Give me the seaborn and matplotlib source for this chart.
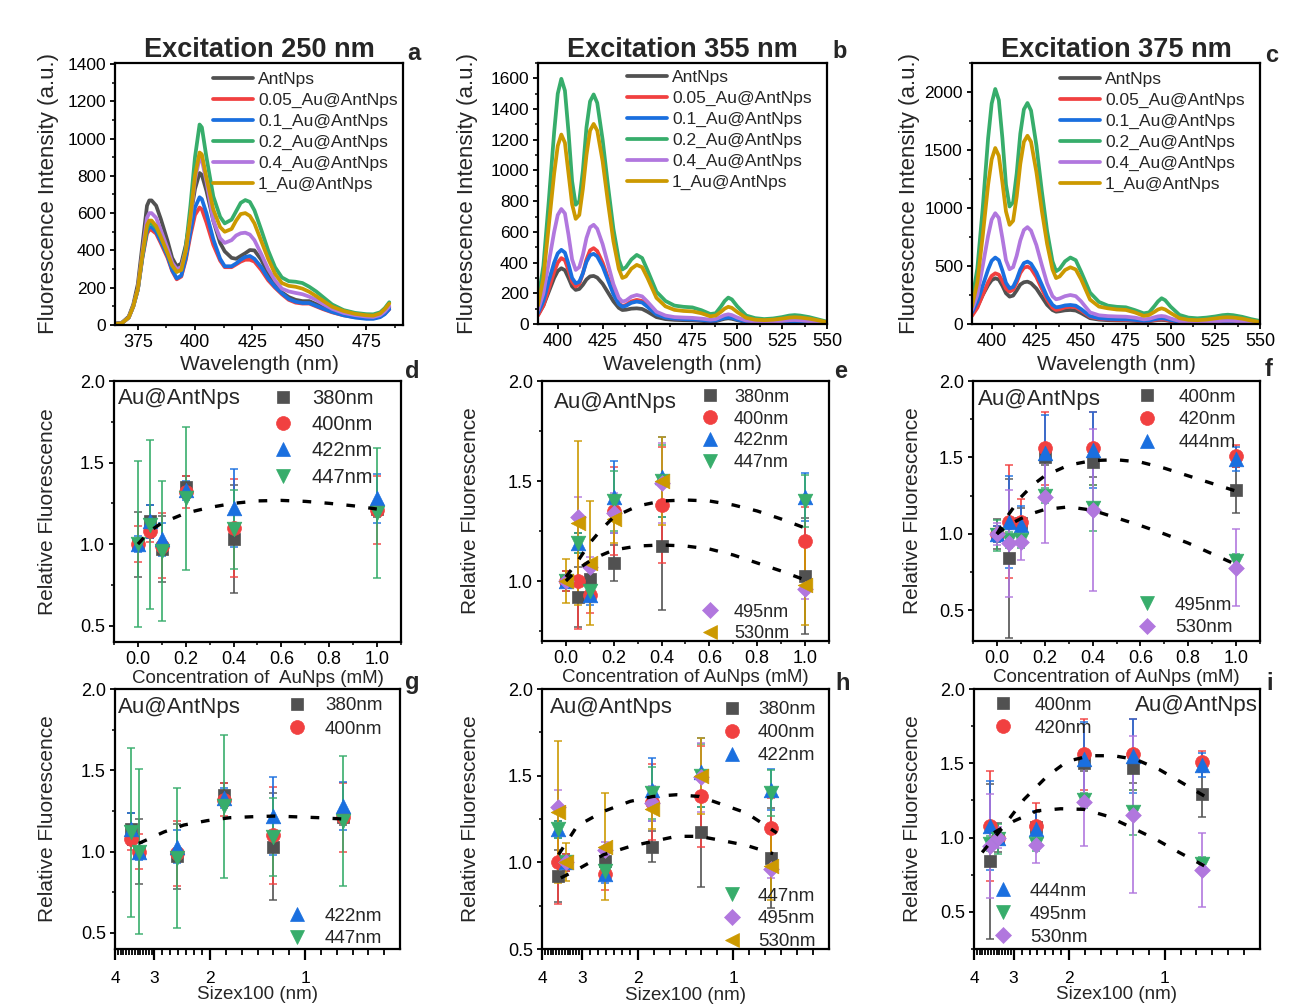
import matplotlib
matplotlib.use("Agg")
import matplotlib.pyplot as plt
from matplotlib.lines import Line2D
from matplotlib.ticker import MultipleLocator, FixedLocator, FixedFormatter, NullFormatter
import numpy as np
import seaborn as sns

# ---------------- emission spectra ----------------
samples = ["AntNps", "0.05_Au@AntNps", "0.1_Au@AntNps",
           "0.2_Au@AntNps", "0.4_Au@AntNps", "1_Au@AntNps"]

wl_250 = [365, 368, 371, 373, 375, 377, 379, 380, 381, 383, 385, 388, 390, 392, 394, 396,
          398, 400, 402, 403, 405, 408, 411, 413, 416, 418, 420, 422, 424, 426, 429, 432,
          435, 438, 441, 444, 447, 450, 453, 456, 460, 465, 470, 475, 478, 481, 483, 485]
ex250_ant = [8, 12, 45, 110, 220, 430, 640, 668, 668, 640, 570, 450, 360, 315, 330, 430,
             580, 730, 815, 805, 720, 560, 440, 395, 360, 355, 370, 385, 402, 400, 350, 275,
             215, 175, 150, 135, 128, 128, 112, 95, 75, 60, 50, 45, 45, 55, 68, 95]
ex250_005 = [5, 10, 40, 100, 190, 360, 490, 510, 510, 490, 440, 360, 290, 245, 260, 350,
             480, 590, 630, 620, 550, 430, 345, 310, 310, 325, 340, 350, 350, 340, 295, 240,
             200, 165, 135, 120, 115, 115, 100, 85, 68, 52, 42, 37, 37, 45, 60, 85]
ex250_01 = [5, 10, 40, 100, 190, 365, 505, 525, 525, 500, 450, 370, 295, 250, 265, 360,
            500, 630, 685, 675, 600, 460, 355, 315, 315, 330, 350, 365, 370, 355, 310, 250,
            205, 170, 140, 125, 118, 118, 103, 88, 70, 52, 40, 33, 33, 42, 58, 85]
ex250_02 = [5, 10, 40, 100, 190, 370, 520, 545, 545, 520, 470, 385, 320, 285, 300, 420,
            640, 900, 1075, 1060, 900, 690, 580, 545, 565, 610, 655, 670, 660, 615, 510, 400,
            310, 255, 235, 232, 225, 205, 180, 150, 110, 80, 65, 58, 57, 68, 90, 122]
ex250_04 = [5, 10, 40, 100, 195, 390, 575, 600, 600, 575, 510, 410, 335, 300, 310, 400,
            570, 780, 895, 885, 770, 560, 465, 440, 455, 480, 492, 495, 485, 455, 380, 300,
            240, 195, 180, 172, 165, 152, 135, 113, 87, 65, 53, 45, 43, 53, 72, 100]
ex250_1 = [5, 10, 40, 100, 195, 380, 535, 560, 560, 530, 475, 385, 320, 285, 295, 400,
           580, 800, 925, 915, 790, 620, 525, 500, 515, 560, 595, 600, 585, 545, 450, 355,
           275, 225, 210, 205, 195, 178, 155, 130, 98, 75, 60, 52, 50, 62, 85, 115]

wl_long = [389, 392, 395, 398, 400, 402, 404, 406, 408, 410, 412, 414, 416, 418, 420, 422,
           425, 428, 431, 434, 436, 438, 441, 444, 447, 450, 455, 460, 465, 470, 475, 480,
           485, 488, 491, 493, 495, 497, 500, 505, 510, 515, 520, 525, 529, 532, 535, 540,
           545, 550]
ex355_ant = [60, 120, 210, 300, 345, 363, 350, 300, 245, 222, 228, 255, 290, 310, 313, 302,
             262, 205, 148, 105, 91, 93, 100, 102, 98, 80, 45, 32, 27, 25, 24, 20,
             16, 18, 28, 34, 37, 34, 25, 13, 9, 8, 9, 11, 13, 14, 13, 10, 6, 4]
ex355_005 = [55, 120, 230, 340, 400, 429, 415, 350, 275, 244, 260, 330, 420, 480, 494, 475,
             400, 300, 205, 135, 117, 124, 147, 157, 150, 120, 65, 44, 36, 33, 31, 27,
             21, 24, 36, 44, 48, 44, 32, 17, 12, 10, 12, 15, 18, 19, 18, 14, 9, 5]
ex355_01 = [70, 150, 280, 400, 460, 483, 465, 390, 300, 265, 275, 330, 405, 448, 457, 440,
            375, 285, 195, 130, 113, 118, 138, 146, 140, 112, 62, 42, 35, 32, 30, 26,
            20, 23, 33, 40, 43, 40, 29, 16, 11, 10, 11, 14, 17, 18, 17, 13, 8, 5]
ex355_02 = [150, 380, 800, 1250, 1500, 1597, 1520, 1250, 930, 777, 800, 1000, 1280, 1450, 1495, 1440,
            1200, 900, 620, 420, 355, 370, 420, 450, 430, 350, 210, 150, 120, 112, 108, 90,
            65, 70, 115, 150, 172, 160, 115, 55, 38, 32, 36, 45, 55, 58, 55, 45, 30, 15]
ex355_04 = [90, 200, 400, 600, 710, 749, 720, 580, 420, 352, 370, 450, 560, 630, 646, 620,
            520, 390, 260, 170, 146, 152, 178, 189, 180, 145, 80, 55, 45, 42, 40, 35,
            28, 32, 48, 58, 63, 58, 42, 22, 16, 14, 16, 20, 25, 26, 24, 18, 12, 8]
ex355_1 = [120, 300, 640, 980, 1160, 1234, 1180, 980, 780, 685, 710, 880, 1100, 1260, 1303, 1260,
           1060, 790, 540, 360, 300, 310, 360, 385, 370, 300, 170, 115, 92, 85, 82, 70,
           50, 55, 80, 100, 112, 105, 78, 40, 28, 25, 28, 35, 42, 44, 42, 35, 24, 12]

ex375_ant = [80, 150, 250, 335, 378, 394, 383, 330, 265, 236, 245, 290, 340, 360, 365, 352,
             305, 235, 165, 120, 106, 110, 118, 121, 116, 94, 50, 38, 33, 31, 30, 27,
             21, 24, 30, 34, 35, 33, 25, 13, 10, 8, 10, 12, 14, 15, 14, 11, 7, 4]
ex375_005 = [70, 140, 250, 360, 415, 437, 425, 370, 305, 279, 295, 360, 440, 485, 495, 478,
             405, 305, 210, 140, 121, 127, 143, 150, 144, 116, 62, 45, 39, 37, 35, 31,
             24, 27, 34, 38, 40, 38, 28, 15, 11, 9, 11, 13, 16, 17, 16, 12, 8, 4]
ex375_01 = [100, 190, 330, 470, 545, 573, 550, 460, 355, 308, 320, 385, 470, 525, 538, 520,
            445, 340, 235, 165, 144, 148, 160, 164, 158, 128, 68, 50, 44, 42, 40, 35,
            27, 30, 40, 46, 49, 46, 34, 18, 13, 11, 13, 16, 19, 20, 19, 15, 9, 5]
ex375_02 = [200, 480, 1000, 1600, 1900, 2026, 1930, 1600, 1200, 1013, 1050, 1300, 1640, 1850, 1905, 1840,
            1540, 1150, 800, 540, 455, 475, 540, 573, 550, 450, 270, 190, 158, 148, 144, 120,
            92, 100, 155, 195, 222, 205, 150, 78, 55, 49, 55, 65, 76, 80, 76, 62, 42, 26]
ex375_04 = [120, 250, 500, 760, 900, 955, 915, 740, 550, 472, 490, 590, 720, 810, 835, 805,
            680, 510, 350, 240, 213, 220, 240, 250, 240, 195, 100, 75, 68, 65, 63, 55,
            40, 45, 58, 66, 69, 65, 48, 25, 18, 16, 18, 22, 27, 28, 27, 21, 13, 6]
ex375_1 = [150, 360, 760, 1200, 1420, 1517, 1450, 1220, 970, 855, 890, 1100, 1380, 1570, 1623, 1570,
           1310, 980, 690, 470, 396, 410, 465, 489, 470, 385, 210, 150, 135, 125, 121, 100,
           70, 78, 105, 125, 135, 125, 95, 50, 36, 33, 38, 48, 56, 58, 56, 46, 30, 17]

# ---------------- relative fluorescence ----------------
conc = [0.0, 0.05, 0.1, 0.2, 0.4, 1.0]          # mM AuNps
size_x100 = [3.36, 3.57, 2.54, 1.80, 1.26, 0.76]  # particle size / 100 nm

rel250_380 = [1.00, 1.14, 0.97, 1.35, 1.03, 1.215]
rel250_400 = [1.00, 1.08, 0.99, 1.32, 1.10, 1.21]
rel250_422 = [1.00, 1.14, 1.03, 1.33, 1.22, 1.28]
rel250_447 = [1.00, 1.12, 0.96, 1.28, 1.09, 1.19]
err250_380 = [0.20, 0.10, 0.20, 0.07, 0.33, 0.05]
err250_400 = [0.11, 0.07, 0.20, 0.10, 0.30, 0.21]
err250_422 = [0.05, 0.10, 0.10, 0.06, 0.24, 0.15]
err250_447 = [0.51, 0.52, 0.43, 0.44, 0.24, 0.40]

rel355_380 = [1.00, 0.92, 1.01, 1.09, 1.175, 1.025]
rel355_400 = [1.00, 1.00, 0.93, 1.35, 1.38, 1.20]
rel355_422 = [1.00, 1.19, 0.93, 1.42, 1.52, 1.42]
rel355_447 = [1.00, 1.19, 0.95, 1.40, 1.50, 1.40]
rel355_495 = [1.00, 1.32, 1.07, 1.34, 1.49, 0.96]
rel355_530 = [1.00, 1.29, 1.09, 1.31, 1.50, 0.98]
err355_380 = [0.05, 0.15, 0.05, 0.09, 0.32, 0.29]
err355_400 = [0.05, 0.24, 0.09, 0.22, 0.29, 0.17]
err355_422 = [0.03, 0.05, 0.05, 0.18, 0.20, 0.12]
err355_447 = [0.03, 0.05, 0.05, 0.15, 0.18, 0.13]
err355_495 = [0.03, 0.10, 0.05, 0.10, 0.20, 0.05]
err355_530 = [0.11, 0.41, 0.31, 0.12, 0.22, 0.20]

rel375_400 = [1.00, 0.84, 1.07, 1.50, 1.47, 1.29]
rel375_420 = [1.00, 1.08, 1.08, 1.56, 1.56, 1.51]
rel375_444 = [1.00, 1.08, 1.06, 1.53, 1.55, 1.49]
rel375_495 = [0.99, 0.96, 0.96, 1.25, 1.17, 0.82]
rel375_530 = [1.00, 0.94, 0.95, 1.24, 1.155, 0.78]
err375_400 = [0.10, 0.52, 0.10, 0.05, 0.10, 0.15]
err375_420 = [0.05, 0.37, 0.15, 0.24, 0.24, 0.07]
err375_444 = [0.05, 0.30, 0.12, 0.25, 0.25, 0.08]
err375_495 = [0.10, 0.05, 0.05, 0.05, 0.15, 0.05]
err375_530 = [0.07, 0.35, 0.12, 0.30, 0.53, 0.25]

# trend curves (dotted guides)
fit250_c = [0.0, 0.05, 0.1, 0.2, 0.3, 0.4, 0.5, 0.6, 0.7, 0.8, 0.9, 1.0]
fit250_v = [1.00, 1.08, 1.13, 1.19, 1.225, 1.25, 1.265, 1.268, 1.262, 1.25, 1.235, 1.215]
fit355_c = [0.0, 0.05, 0.1, 0.15, 0.2, 0.3, 0.4, 0.5, 0.6, 0.7, 0.8, 0.9, 1.0]
fit355_hi = [1.02, 1.10, 1.19, 1.26, 1.32, 1.375, 1.40, 1.405, 1.40, 1.38, 1.35, 1.31, 1.265]
fit355_lo = [1.00, 1.06, 1.10, 1.13, 1.155, 1.175, 1.18, 1.175, 1.16, 1.13, 1.09, 1.05, 1.005]
fit375_c = [0.0, 0.05, 0.1, 0.15, 0.2, 0.3, 0.4, 0.5, 0.6, 0.7, 0.8, 0.9, 1.0]
fit375_hi = [1.00, 1.13, 1.24, 1.32, 1.38, 1.45, 1.48, 1.485, 1.47, 1.43, 1.38, 1.33, 1.28]
fit375_lo = [1.00, 1.06, 1.10, 1.135, 1.16, 1.177, 1.155, 1.105, 1.055, 1.00, 0.94, 0.87, 0.80]

fit250_s = [3.36, 2.80, 2.42, 2.04, 1.73, 1.47, 1.25, 1.09, 0.90, 0.76]
fit250_sv = [1.05, 1.12, 1.163, 1.19, 1.208, 1.214, 1.218, 1.214, 1.208, 1.20]
fit355_s_hi = [3.55, 3.10, 2.56, 2.11, 1.79, 1.51, 1.28, 1.08, 0.91, 0.73]
fit355_sv_hi = [1.044, 1.21, 1.294, 1.352, 1.38, 1.39, 1.38, 1.333, 1.285, 1.17]
fit355_s_lo = [3.49, 3.10, 2.56, 2.11, 1.79, 1.51, 1.28, 1.08, 0.91, 0.75]
fit355_sv_lo = [0.91, 0.958, 1.044, 1.092, 1.121, 1.15, 1.15, 1.125, 1.098, 1.05]
fit375_s_hi = [3.77, 3.31, 2.78, 2.35, 2.03, 1.72, 1.45, 1.23, 1.04, 0.88, 0.75]
fit375_sv_hi = [0.90, 1.045, 1.257, 1.413, 1.513, 1.551, 1.551, 1.525, 1.458, 1.368, 1.28]
fit375_s_lo = [3.46, 3.00, 2.53, 2.13, 1.80, 1.52, 1.27, 1.07, 0.90, 0.75]
fit375_sv_lo = [1.033, 1.11, 1.18, 1.194, 1.19, 1.145, 1.067, 0.99, 0.90, 0.81]

# ---------------- style ----------------
GRAY, RED, BLUE, GREEN, PURPLE, GOLD = "#515151", "#F14040", "#1A6FDF", "#37AD6B", "#B177DE", "#CC9900"
spec_colors = [GRAY, RED, BLUE, GREEN, PURPLE, GOLD]

sns.set_theme(style="ticks")
plt.rcParams["font.family"] = ["Liberation Sans", "DejaVu Sans"]
plt.rcParams.update({
    "axes.linewidth": 1.6,
    "axes.edgecolor": "black",
    "xtick.color": "black", "ytick.color": "black",
    "xtick.direction": "out", "ytick.direction": "out",
    "xtick.major.width": 1.3, "ytick.major.width": 1.3,
    "xtick.minor.width": 1.1, "ytick.minor.width": 1.1,
    "xtick.major.size": 3.6, "ytick.major.size": 3.6,
    "xtick.minor.size": 2.0, "ytick.minor.size": 2.0,
    "xtick.major.pad": 3.0, "ytick.major.pad": 3.0,
    "axes.facecolor": "white", "figure.facecolor": "white",
})

W, H = 1290, 1005
DPI = 100
fig = plt.figure(figsize=(W / DPI, H / DPI), dpi=DPI)


def px_axes(l, t, r, b):
    return fig.add_axes([l / W, 1 - b / H, (r - l) / W, (b - t) / H])


def fxy(x, y):
    return (x / W, 1 - y / H)


def place_labels(ax, box, xlab, xlab_y, ylab, ylab_x, xfs, yfs):
    l, t, r, b = box
    ax.set_xlabel(xlab, fontsize=xfs, va="center")
    ax.xaxis.set_label_coords(0.5, (b - xlab_y) / (b - t))
    ax.set_ylabel(ylab, fontsize=yfs, va="center")
    ax.yaxis.set_label_coords((ylab_x - l) / (r - l), 0.5)


def legend_at(ax, handles, labels, hx, my, tx, dy, fs, hl):
    """Legend whose first handle starts at hx and whose first row is centred on my."""
    fs_px = fs * DPI / 72
    row_h = 0.92 * fs_px
    htp = (tx - hx - hl * fs_px) / fs_px
    ls = (dy - row_h) / fs_px
    leg = ax.legend(handles, labels, loc="upper left",
                    bbox_to_anchor=fxy(hx, my - row_h / 2 + 1), bbox_transform=fig.transFigure,
                    frameon=False, borderpad=0, borderaxespad=0, handlelength=hl,
                    handletextpad=htp, labelspacing=ls, fontsize=fs, handleheight=0.7)
    return leg


def spectra_panel(box, wl, curves, title, xlim, ylim, ymaj, ymin_, xlab_y, ylab_x, leg_pos):
    ax = px_axes(*box)
    for lab, vals, col in zip(samples, curves, spec_colors):
        sns.lineplot(x=wl, y=vals, color=col, lw=2.7, ax=ax, label=lab)
    ax.set_xlim(*xlim)
    ax.set_ylim(*ylim)
    ax.xaxis.set_major_locator(MultipleLocator(25))
    ax.xaxis.set_minor_locator(MultipleLocator(12.5))
    ax.yaxis.set_major_locator(MultipleLocator(ymaj))
    ax.yaxis.set_minor_locator(MultipleLocator(ymin_))
    ax.tick_params(which="both", top=False, right=False)
    ax.tick_params(axis="x", labelsize=13)
    ax.tick_params(axis="y", labelsize=12.5)
    ax.set_title(title, fontsize=19.5, fontweight="bold", pad=2.0)
    place_labels(ax, box, "Wavelength (nm)", xlab_y, "Fluorescence Intensity (a.u.)", ylab_x, 15, 16)
    hx, my, tx = leg_pos
    handles, labels = ax.get_legend_handles_labels()
    legend_at(ax, handles, labels, hx, my, tx, 21.6, 12.5, 2.3)
    return ax


def relative_panel(box, xvals, series, fits, ylim, logx, xlab, xlab_y, ylab_x):
    ax = px_axes(*box)
    for lab, vals, errs, mk, col, ms in series:
        ax.errorbar(xvals, vals, yerr=errs, fmt="none", ecolor=col, elinewidth=1.4,
                    capsize=3, capthick=1.2, alpha=0.85, zorder=2)
        sns.scatterplot(x=xvals, y=vals, marker=mk, color=col, s=ms ** 2, edgecolor=col,
                        linewidth=0.5, ax=ax, zorder=3, legend=False)
    for fx, fy in fits:
        ax.plot(fx, fy, color="black", lw=2.4, ls=(0, (2.6, 4.0)), zorder=4,
                dash_capstyle="butt")
    ax.set_ylim(*ylim)
    ax.yaxis.set_major_locator(MultipleLocator(0.5))
    ax.yaxis.set_minor_locator(MultipleLocator(0.25))
    if logx:
        ax.set_xscale("log")
        ax.set_xlim(4, 0.5)
        majors = [4, 3, 2, 1]
        minors = []
        for a, b, n in [(4, 3, 14), (3, 2, 7), (2, 1, 6)]:
            minors += list(np.geomspace(a, b, n + 1)[1:-1])
        step = 10 ** (-np.log10(2) / 6)
        minors += [step ** k for k in range(1, 6)]
        ax.xaxis.set_major_locator(FixedLocator(majors))
        ax.xaxis.set_major_formatter(FixedFormatter([str(m) for m in majors]))
        ax.xaxis.set_minor_locator(FixedLocator(minors))
        ax.xaxis.set_minor_formatter(NullFormatter())
        ax.tick_params(axis="x", which="major", length=8.0, width=1.6, labelsize=12.5, pad=8)
        ax.tick_params(axis="x", which="minor", length=4.5, width=1.3)
    else:
        ax.set_xlim(-0.1, 1.1)
        ax.xaxis.set_major_locator(MultipleLocator(0.2))
        ax.xaxis.set_minor_locator(MultipleLocator(0.1))
        ax.tick_params(axis="x", labelsize=13)
    ax.tick_params(axis="y", labelsize=13)
    ax.tick_params(which="both", top=False, right=False)
    place_labels(ax, box, xlab, xlab_y, "Relative Fluorescence", ylab_x, 13.5, 15)
    return ax


def marker_handles(series, keep):
    hs, ls = [], []
    for lab, vals, errs, mk, col, ms in series:
        if lab in keep:
            hs.append(Line2D([], [], ls="none", marker=mk, ms=ms, color=col, mec=col, mew=0.5))
            ls.append(lab)
    return hs, ls


def marker_legend(ax, series, keep, mx, my, tx, dy, fs):
    hl = 1.2
    fs_px = fs * DPI / 72
    hs, ls = marker_handles(series, keep)
    leg = legend_at(ax, hs, ls, mx - hl * fs_px / 2, my, tx, dy, fs, hl)
    ax.add_artist(leg)
    ax.legend_ = None


# ---------------- top row: spectra ----------------
box_a = (115, 63, 403, 325)
box_b = (538, 63, 827, 324)
box_c = (972, 63, 1260, 324)
spectra_panel(box_a, wl_250, [ex250_ant, ex250_005, ex250_01, ex250_02, ex250_04, ex250_1],
              "Excitation 250 nm", (365, 491), (0, 1405), 200, 100, 364, 48, (213, 79, 258))
spectra_panel(box_b, wl_long, [ex355_ant, ex355_005, ex355_01, ex355_02, ex355_04, ex355_1],
              "Excitation 355 nm", (389, 550), (0, 1700), 200, 100, 364, 467, (627, 77, 672))
spectra_panel(box_c, wl_long, [ex375_ant, ex375_005, ex375_01, ex375_02, ex375_04, ex375_1],
              "Excitation 375 nm", (389, 550), (0, 2250), 500, 250, 364, 910, (1060, 79, 1105))

# ---------------- series definitions ----------------
ser250 = [("380nm", rel250_380, err250_380, "s", GRAY, 9.0),
          ("400nm", rel250_400, err250_400, "o", RED, 10.0),
          ("422nm", rel250_422, err250_422, "^", BLUE, 10.5),
          ("447nm", rel250_447, err250_447, "v", GREEN, 10.5)]
ser355 = [("380nm", rel355_380, err355_380, "s", GRAY, 9.0),
          ("400nm", rel355_400, err355_400, "o", RED, 10.0),
          ("422nm", rel355_422, err355_422, "^", BLUE, 10.5),
          ("447nm", rel355_447, err355_447, "v", GREEN, 10.5),
          ("495nm", rel355_495, err355_495, "D", PURPLE, 8.0),
          ("530nm", rel355_530, err355_530, "<", GOLD, 10.5)]
ser375 = [("400nm", rel375_400, err375_400, "s", GRAY, 9.0),
          ("420nm", rel375_420, err375_420, "o", RED, 10.0),
          ("444nm", rel375_444, err375_444, "^", BLUE, 10.5),
          ("495nm", rel375_495, err375_495, "v", GREEN, 10.5),
          ("530nm", rel375_530, err375_530, "D", PURPLE, 8.0)]

# ---------------- middle row: vs concentration ----------------
box_d = (114, 381, 401, 642)
box_e = (542, 381, 829, 641)
box_f = (973, 381, 1260, 641)
ax_d = relative_panel(box_d, conc, ser250, [(fit250_c, fit250_v)], (0.4, 2.0), False,
                      "Concentration of  AuNps (mM)", 678, 47)
marker_legend(ax_d, ser250, ["380nm", "400nm", "422nm", "447nm"], 283, 397, 312, 25.9, 14.5)
ax_e = relative_panel(box_e, conc, ser355, [(fit355_c, fit355_hi), (fit355_c, fit355_lo)],
                      (0.7, 2.0), False, "Concentration of AuNps (mM)", 678, 470)
marker_legend(ax_e, ser355, ["380nm", "400nm", "422nm", "447nm"], 710, 396, 734, 21.5, 13)
marker_legend(ax_e, ser355, ["495nm", "530nm"], 710, 611, 734, 21.0, 13)
ax_f = relative_panel(box_f, conc, ser375, [(fit375_c, fit375_hi), (fit375_c, fit375_lo)],
                      (0.3, 2.0), False, "Concentration of AuNps (mM)", 678, 912)
marker_legend(ax_f, ser375, ["400nm", "420nm", "444nm"], 1147, 396, 1179, 23.0, 13.5)
marker_legend(ax_f, ser375, ["495nm", "530nm"], 1147, 604, 1175, 23.0, 13.5)

# ---------------- bottom row: vs particle size ----------------
box_g = (115, 689, 400, 949)
box_h = (542, 689, 829, 949)
box_i = (974, 689, 1260, 949)
ax_g = relative_panel(box_g, size_x100, ser250, [(fit250_s, fit250_sv)], (0.4, 2.0), True,
                      "Sizex100 (nm)", 994, 47)
marker_legend(ax_g, ser250, ["380nm", "400nm"], 297, 705, 325, 23.3, 13.5)
marker_legend(ax_g, ser250, ["422nm", "447nm"], 297, 915, 325, 22.7, 13.5)
ax_h = relative_panel(box_h, size_x100, ser355, [(fit355_s_hi, fit355_sv_hi), (fit355_s_lo, fit355_sv_lo)],
                      (0.5, 2.0), True, "Sizex100 (nm)", 995, 470)
marker_legend(ax_h, ser355, ["380nm", "400nm", "422nm"], 732, 709, 758, 23.0, 13.5)
marker_legend(ax_h, ser355, ["447nm", "495nm", "530nm"], 732, 895, 758, 23.0, 13.5)
ax_i = relative_panel(box_i, size_x100, ser375, [(fit375_s_hi, fit375_sv_hi), (fit375_s_lo, fit375_sv_lo)],
                      (0.25, 2.0), True, "Sizex100 (nm)", 994, 913)
marker_legend(ax_i, ser375, ["400nm", "420nm"], 1003, 704, 1035, 23.3, 13.5)
marker_legend(ax_i, ser375, ["444nm", "495nm", "530nm"], 1003, 890, 1030, 23.3, 13.5)

# sample name tags
for (x, y, ha) in [(118, 398, "left"), (554, 402, "left"), (978, 400, "left"),
                   (118, 708, "left"), (550, 707, "left"), (1258, 705, "right")]:
    fig.text(*fxy(x, y), "Au@AntNps", fontsize=16, ha=ha, va="center")

# panel letters
for (x, y, s) in [(414, 53, "a"), (840, 52, "b"), (1272, 55, "c"),
                  (412, 371, "d"), (841, 371, "e"), (1269, 370, "f"),
                  (412, 683, "g"), (843, 683, "h"), (1270, 683, "i")]:
    fig.text(*fxy(x, y), s, fontsize=17, fontweight="bold", ha="center", va="center")

fig.savefig("out.png", dpi=DPI, facecolor="white")
